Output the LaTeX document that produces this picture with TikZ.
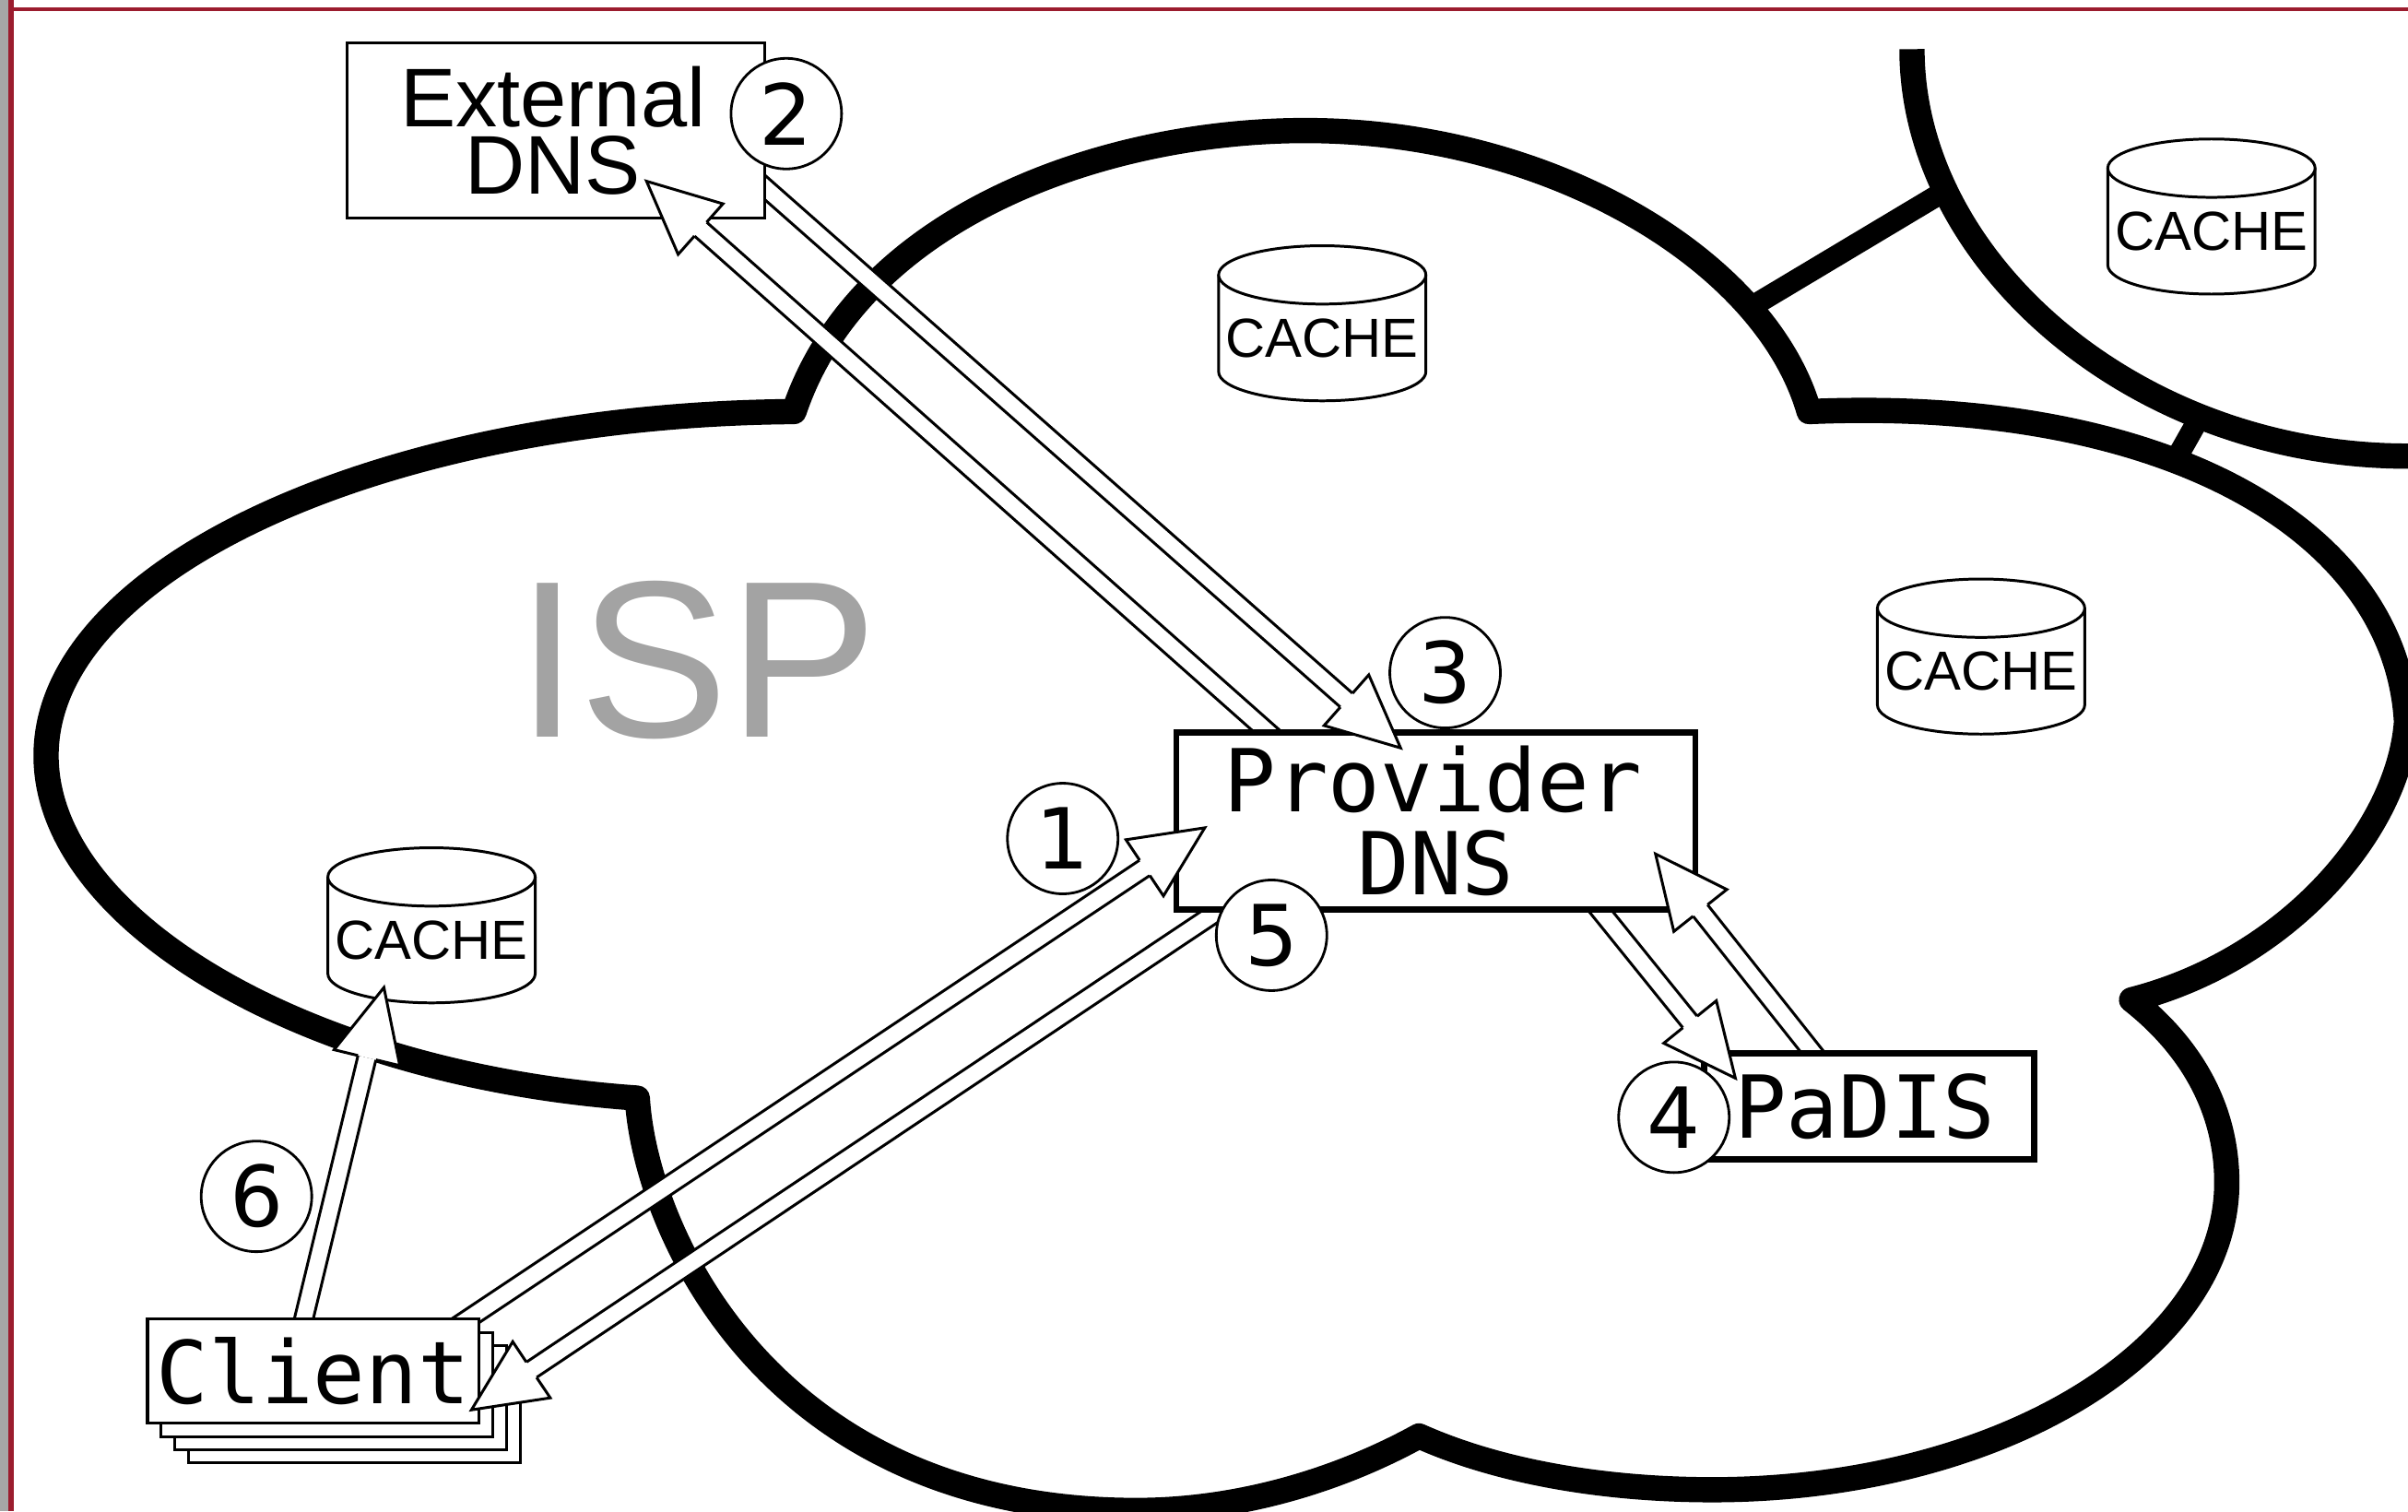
\documentclass[tikz,border=0pt]{standalone}
\usepackage{fontspec}
\setmainfont{Liberation Sans}
\newfontfamily\monof{DejaVu Sans Mono}
\newfontfamily\digitf{DejaVu Sans}
\usetikzlibrary{calc}
\def\u{0.016658cm}
\definecolor{framered}{HTML}{9B1C2E}
\definecolor{framegray}{HTML}{A6A6A6}
\definecolor{ispgray}{HTML}{A3A3A3}
\tikzset{
  cloudline/.style={line width=7.8pt,line join=round,line cap=butt},
  linkline/.style={line width=6.6pt,line cap=butt},
  thinline/.style={line width=0.85pt,line join=miter},
  cachetext/.style={inner sep=0pt,font=\fontsize{17}{17}\selectfont},
  plainbox/.style={draw,fill=white,line width=0.8pt,inner sep=0pt,align=center},
  heavybox/.style={draw,fill=white,line width=1.9pt,inner sep=0pt,align=center,
    font=\fontsize{26.8}{25.6}\selectfont\monof},
  stackbox/.style={draw,fill=white,line width=0.9pt,minimum width=216*\u,minimum height=68*\u,inner sep=0pt},
  stepcircle/.style={circle,draw,fill=white,line width=0.8pt,minimum size=72*\u,inner sep=0pt,
    font=\fontsize{26}{26}\selectfont\digitf},
}
\newcommand\cachecyl[3]{%
  \draw[thinline,fill=white] (#2-67.5,#3-31.5) -- (#2-67.5,#3+31.5)
    arc[start angle=180,end angle=360,x radius=67.5*\u,y radius=19*\u]
    -- (#2+67.5,#3-31.5);
  \draw[thinline,fill=white] (#2,#3-31.5) ellipse[x radius=67.5*\u,y radius=19*\u];
  \node[cachetext] (#1) at (#2,#3+9.5) {CACHE};
}
\newcommand\arrowshaft[2]{%
  \coordinate (H) at ($(#2)!47*\u!(#1)$);
  \coordinate (J1) at ($(H)!6*\u!90:(#2)$);
  \coordinate (J2) at ($(H)!6*\u!-90:(#2)$);
  \coordinate (E) at ($(#1)!-25*\u!(#2)$);
  \coordinate (E1) at ($(E)!6*\u!90:(#2)$);
  \coordinate (E2) at ($(E)!6*\u!-90:(#2)$);
  \fill[white] (E1) -- (J1) -- (J2) -- (E2) -- cycle;
  \draw[thinline] (E1) -- (J1);
  \draw[thinline] (E2) -- (J2);
}
\newcommand\arrowhead[2]{%
  \coordinate (H) at ($(#2)!47*\u!(#1)$);
  \coordinate (J1) at ($(H)!6*\u!90:(#2)$);
  \coordinate (J2) at ($(H)!6*\u!-90:(#2)$);
  \coordinate (B1) at ($(H)!22*\u!90:(#2)$);
  \coordinate (B2) at ($(H)!22*\u!-90:(#2)$);
  \fill[white] (#2) -- (B1) -- (B2) -- cycle;
  \draw[thinline] (J1) -- (B1) -- (#2) -- (B2) -- (J2);
}
\begin{document}
\begin{tikzpicture}[x=0.016658cm,y=-0.016658cm]
\clip (0,0) rectangle (1568,984);
\fill[white] (0,0) rectangle (1568,984);
% window frame
\fill[framered] (5,4.8) rectangle (1568,7.2);
\fill[framegray] (0,0) rectangle (5.4,984);
\fill[framered] (5.4,0) rectangle (9,984);
% clouds
\draw[cloudline] (517,268) .. controls (250,270) and (30,370) .. (30,492)
  .. controls (30,600) and (200,700) .. (415,715)
  .. controls (420,800) and (500,983.5) .. (740,983.5)
  .. controls (810,983.5) and (875,962) .. (924,935)
  .. controls (980,960) and (1050,970) .. (1115,970)
  .. controls (1300,970) and (1450,880) .. (1450,770)
  .. controls (1450,720) and (1425,680) .. (1388,651)
  .. controls (1490,625) and (1562,540) .. (1567,470)
  .. controls (1560,345) and (1410,258) .. (1178,268)
  .. controls (1150,170) and (1010,85) .. (850,85)
  .. controls (720,85) and (560,140) .. (517,268) -- cycle;
\draw[cloudline] (1245,32) .. controls (1245,170) and (1390,297) .. (1568,297);
\coordinate (linkAa) at (1145,197);
\coordinate (linkAb) at (1262,127);
\coordinate (linkBa) at (1418,297);
\coordinate (linkBb) at (1431,274);
\draw[linkline] (linkAa) -- (linkAb);
\draw[linkline] (linkBa) -- (linkBb);
% caches
\cachecyl{cacheA}{861}{210.5}
\cachecyl{cacheB}{1440}{141}
\cachecyl{cacheC}{1290}{427.5}
\cachecyl{cacheD}{281}{602.5}
% client stack
\node[stackbox] (clientC) at (231,918.5) {};
\node[stackbox] (clientB) at (222,910) {};
\node[stackbox] (clientA) at (213,901.5) {};
% connector ends
\coordinate (extOut) at (498,122);
\coordinate (provIn) at (912,487);
\coordinate (provOut) at (826,477);
\coordinate (extIn) at (421,118);
\coordinate (cliOut) at (303,860);
\coordinate (provInB) at (784.5,539);
\coordinate (provOutB) at (786,598);
\coordinate (cliIn) at (307,918);
\coordinate (provOutC) at (1042,593);
\coordinate (padIn) at (1130,702);
\coordinate (padOut) at (1181,686);
\coordinate (provInC) at (1078,556);
\coordinate (cliOutB) at (198,858);
\coordinate (cacheIn) at (250,643);
% shafts
\arrowshaft{extOut}{provIn}
\arrowshaft{provOut}{extIn}
\arrowshaft{cliOut}{provInB}
\arrowshaft{provOutB}{cliIn}
\arrowshaft{provOutC}{padIn}
\arrowshaft{padOut}{provInC}
\arrowshaft{cliOutB}{cacheIn}
% boxes
\node[plainbox,minimum width=272*\u,minimum height=114*\u,
  font=\fontsize{25.7}{20.8}\selectfont] (extdns) at (362,85) {External\hspace*{1.9pt}\\DNS\hspace*{1.9pt}};
\node[heavybox,minimum width=338*\u,minimum height=115*\u] (provdns) at (935,534.5) {Provider\hspace*{1.9pt}\\DNS};
\node[heavybox,minimum width=215*\u,minimum height=69*\u] (padis) at (1217,720.5) {PaDIS\hspace*{2.5pt}};
\node[stackbox,font=\fontsize{26.8}{27}\selectfont\monof] (client) at (204,892.5) {Client};
\node[text=ispgray,font=\fontsize{69}{69}\selectfont,inner sep=0pt] (isp) at (454,430) {ISP};
% heads
\arrowhead{extOut}{provIn}
\arrowhead{provOut}{extIn}
\arrowhead{cliOut}{provInB}
\arrowhead{provOutB}{cliIn}
\arrowhead{provOutC}{padIn}
\arrowhead{padOut}{provInC}
\arrowhead{cliOutB}{cacheIn}
% step numbers
\node[stepcircle] (stepA) at (692,546) {1};
\node[stepcircle] (stepB) at (512,74) {2};
\node[stepcircle] (stepC) at (941,438) {3};
\node[stepcircle] (stepD) at (1090,727.5) {4};
\node[stepcircle] (stepE) at (828,609) {5};
\node[stepcircle] (stepF) at (167,779) {6};
\end{tikzpicture}
\end{document}
